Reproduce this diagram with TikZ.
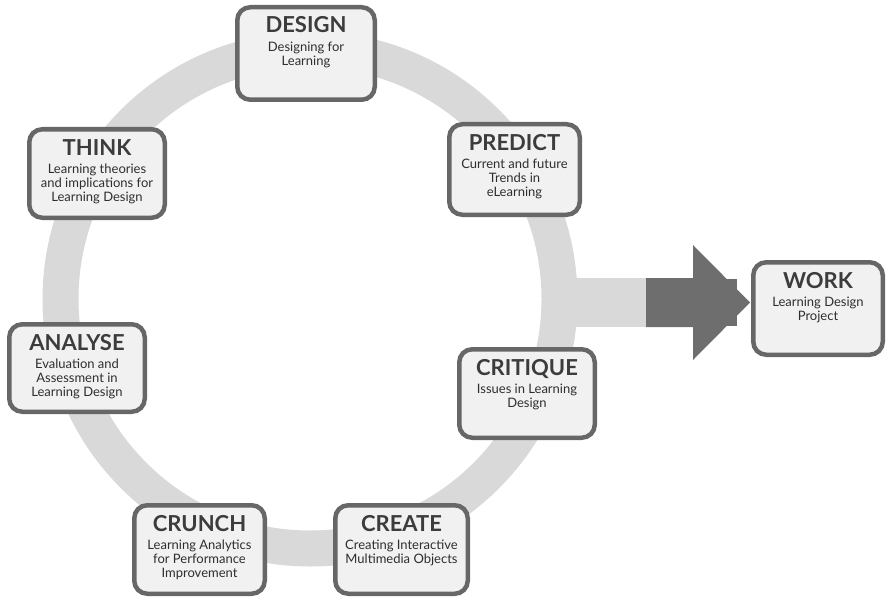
\documentclass[tikz,border=0pt]{standalone}
\usepackage{fontspec}
\setmainfont{Lato}
\definecolor{ringgray}{HTML}{D9D9D9}
\definecolor{arrowgray}{HTML}{6E6E6E}
\definecolor{boxedge}{HTML}{676767}
\definecolor{boxfill}{HTML}{F1F1F1}
\definecolor{titlegray}{HTML}{3C3C3C}
\definecolor{textgray}{HTML}{2E2E2E}

% one stage of the cycle: name, centre x, centre y, width, height, title, description
\newcommand{\drawstage}[7]{%
  \node[stagebox, minimum width=#4pt, minimum height=#5pt] (#1) at (#2,#3) {};
  \node[stagetitle] (#1-title) at ([yshift=-28pt]#1.north) {#6};
  \node[stagetext] (#1-text) at ([yshift=-36.5pt]#1.north) {#7};
}

\begin{document}
\begin{tikzpicture}[x=1pt, y=-1pt,
  stagebox/.style={draw=boxedge, fill=boxfill, line width=4.5pt, rounded corners=13pt, inner sep=0pt},
  stagetitle/.style={anchor=base, inner sep=0pt, font=\bfseries\fontsize{22}{25}\selectfont, text=titlegray},
  stagetext/.style={anchor=north, inner sep=0pt, align=center, font=\fontsize{13}{14}\selectfont, text=textgray},
  ringbar/.style={draw=ringgray, line width=49pt},
]
\useasboundingbox (0,0) rectangle (888,599);

% the cycle ring
\node[circle, draw=ringgray, line width=36pt, minimum size=499pt, inner sep=0pt] (ring) at (310,299) {};

% exit bar and arrow towards the project
\coordinate (tail) at (646,302.5);
\draw[ringbar] ([xshift=-25pt]ring.east |- tail) -- (tail);
\fill[arrowgray] (693,279) rectangle (737,326);
\fill[arrowgray] (646,278) -- (693,278) -- (693,245) -- (750,302.5)
  -- (693,360) -- (693,327) -- (646,327) -- cycle;

% stages
\drawstage{design}{306}{53.5}{137.5}{92.5}{DESIGN}{Designing for\\Learning}
\drawstage{predict}{514.5}{169.5}{130.5}{90.5}{PREDICT}{Current and future\\Trends in\\eLearning}
\drawstage{think}{97}{173.5}{135.5}{88.5}{THINK}{Learning theories\\and implications for\\Learning Design}
\drawstage{analyse}{77}{368}{135.5}{87.5}{ANALYSE}{Evaluation and\\Assessment in\\Learning Design}
\drawstage{critique}{527}{393.5}{135.5}{88.5}{CRITIQUE}{Issues in Learning\\Design}
\drawstage{crunch}{199.5}{549.5}{130.5}{88.5}{CRUNCH}{Learning Analytics\\for Performance\\Improvement}
\drawstage{create}{401.5}{549.5}{132.5}{88.5}{CREATE}{Creating Interactive\\Multimedia Objects}
\drawstage{work}{818}{308.5}{129.5}{92.5}{WORK}{Learning Design\\Project}
\end{tikzpicture}
\end{document}
